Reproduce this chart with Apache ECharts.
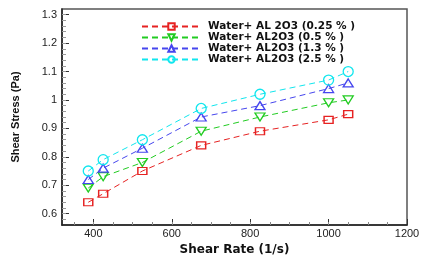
<!DOCTYPE html>
<html><head><meta charset="utf-8">
<script src="https://cdn.jsdelivr.net/npm/echarts@6/dist/echarts.min.js"></script>
<style>html,body{margin:0;padding:0;background:#fff}#c{width:424px;height:261px}</style>
</head><body><div id="c"></div>
<script>
const shearRate = [387, 425, 525, 675, 825, 1000, 1050];
const seriesNames = ['Water+ AL 2O3 (0.25 % )', 'Water+ AL2O3 (0.5 % )', 'Water+ AL2O3 (1.3 % )', 'Water+ AL2O3 (2.5 % )'];
const stress025 = [0.64, 0.67, 0.75, 0.84, 0.89, 0.93, 0.95];
const stress05 = [0.69, 0.73, 0.78, 0.89, 0.94, 0.99, 1.00];
const stress13 = [0.72, 0.76, 0.83, 0.94, 0.98, 1.04, 1.06];
const stress25 = [0.75, 0.79, 0.86, 0.97, 1.02, 1.07, 1.10];
const xTicks = [400, 600, 800, 1000, 1200];
const xMinor = [350, 400, 450, 500, 550, 600, 650, 700, 750, 800, 850, 900, 950, 1000, 1050, 1100, 1150];
const yTicks = [0.6, 0.7, 0.8, 0.9, 1.0, 1.1, 1.2, 1.3];
const yMinor = [0.58,0.6,0.62,0.64,0.66,0.68,0.7,0.72,0.74,0.76,0.78,0.8,0.82,0.84,0.86,0.88,0.9,0.92,0.94,0.96,0.98,1.0,1.02,1.04,1.06,1.08,1.1,1.12,1.14,1.16,1.18,1.2,1.22,1.24,1.26,1.28,1.3];

const allValues = [stress025, stress05, stress13, stress25];
const colors = ['#e62222', '#22cc22', '#4646ee', '#11e6ee'];
const symbols = ['rect', 'path://M0,0 L10,0 L5,9 Z', 'triangle', 'circle'];
const sizes = [[9,7], [10,8], [10,8], [10,10]];

const chart = echarts.init(document.getElementById('c'), null, {renderer: 'canvas'});
const series = allValues.map((vals, i) => ({
  name: seriesNames[i],
  type: 'line',
  xAxisIndex: 0, yAxisIndex: 0,
  data: vals.map((v, j) => [shearRate[j], v]),
  symbol: symbols[i],
  symbolSize: sizes[i],
  showAllSymbol: true,
  lineStyle: {color: colors[i], width: 1, type: [6, 4]},
  itemStyle: {color: 'rgba(255,255,255,0)', borderColor: colors[i], borderWidth: 1.3},
  animation: false,
  z: 3
}));

chart.setOption({
  animation: false,
  grid: {left: 62, right: 17, top: 9, bottom: 31, show: true, borderColor: '#555', borderWidth: 1.5, backgroundColor: '#fff'},
  legend: {
    orient: 'vertical', left: 136, top: 16,
    itemWidth: 59, itemHeight: 8, itemGap: 0,
    textStyle: {fontFamily: 'DejaVu Sans', fontWeight: 'bold', fontSize: 10.5, color: '#111', lineHeight: 8, padding: [0, 0, 0, 2]},
    data: seriesNames
  },
  xAxis: [{
    type: 'value', min: 320, max: 1200, position: 'bottom',
    name: 'Shear Rate (1/s)', nameLocation: 'middle', nameGap: 19,
    nameTextStyle: {fontFamily: 'DejaVu Sans', fontWeight: 'bold', fontSize: 12, color: '#111'},
    axisLine: {show: true, lineStyle: {color: '#222', width: 1.5}},
    axisTick: {show: true, inside: true, length: 6, lineStyle: {color: '#333'}, customValues: xTicks},
    axisLabel: {fontFamily: 'Liberation Sans', fontSize: 11, color: '#222', margin: 3, customValues: xTicks,
      formatter: v => String(Math.round(v))},
    splitLine: {show: false}
  }, {
    type: 'value', min: 320, max: 1200, position: 'bottom', offset: 0,
    axisLine: {show: false},
    axisTick: {show: true, inside: true, length: 3, lineStyle: {color: '#888'}, customValues: xMinor},
    axisLabel: {show: false},
    splitLine: {show: false}
  }],
  yAxis: [{
    type: 'value', min: 0.56, max: 1.32, position: 'left',
    name: 'Shear Stress (Pa)', nameLocation: 'middle', nameGap: 41, nameRotate: 90,
    nameTextStyle: {fontFamily: 'Liberation Sans', fontWeight: 'bold', fontSize: 11, color: '#111'},
    axisLine: {show: true, lineStyle: {color: '#222', width: 1.5}},
    axisTick: {show: true, inside: true, length: 7, lineStyle: {color: '#333'}, customValues: yTicks},
    axisLabel: {fontFamily: 'Liberation Sans', fontSize: 11, color: '#222', margin: 5, customValues: yTicks,
      formatter: v => String(Math.round(v * 10) / 10)},
    splitLine: {show: false}
  }, {
    type: 'value', min: 0.56, max: 1.32, position: 'left', offset: 0,
    axisLine: {show: false},
    axisTick: {show: true, inside: true, length: 4, lineStyle: {color: '#999'}, customValues: yMinor},
    axisLabel: {show: false},
    splitLine: {show: false}
  }],
  series: series
});
</script>
</body></html>
